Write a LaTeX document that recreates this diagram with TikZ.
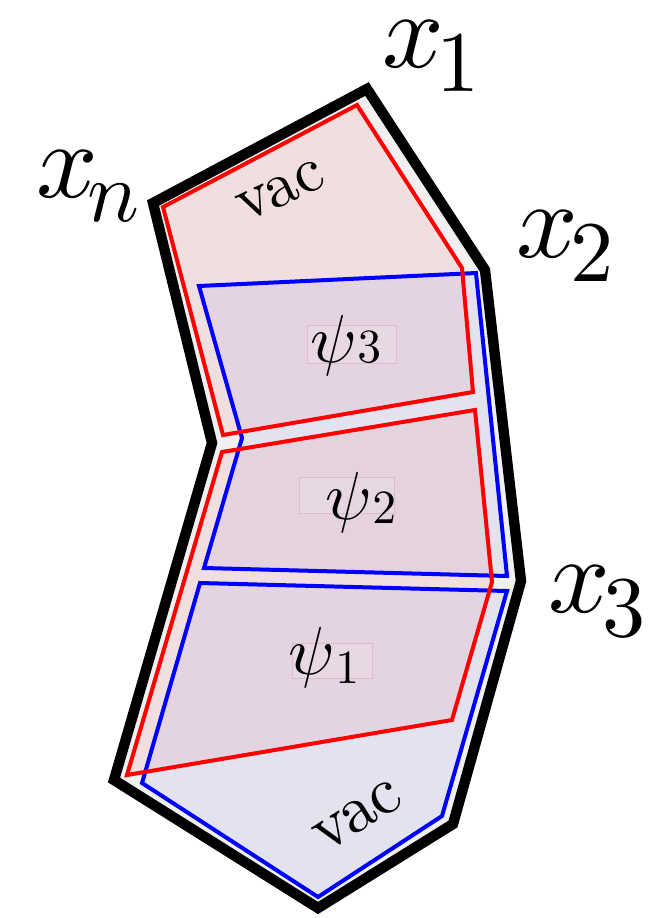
\documentclass[tikz,border=0pt]{standalone}
\usepackage{graphicx}
\newcommand\sublbl[4]{$#1\kern#4\raisebox{-#3}{\scalebox{0.8}{$#2$}}$}
\newcommand\psilbl[2]{$\psi\raisebox{-#2}{\scalebox{0.7}{$#1$}}$}
\begin{document}
\begin{tikzpicture}[x=0.5pt,y=-0.5pt,line join=miter,
  outerline/.style={draw=black,line width=5.2pt,fill={rgb,255:red,240;green,240;blue,240}},
  redreg/.style={fill=red,fill opacity=0.07},
  bluereg/.style={fill=blue,fill opacity=0.05},
  redline/.style={draw=red,line width=2pt},
  blueline/.style={draw=blue,line width=2pt},
  ptlabel/.style={anchor=base,inner sep=0pt,scale=5.4},
  psilabel/.style={anchor=base,inner sep=0pt,scale=3.4},
  vaclabel/.style={inner sep=0pt,scale=3.2},
  ghostbox/.style={draw={rgb,255:red,215;green,190;blue,205},line width=0.4pt,fill=white,fill opacity=0.12}]
\useasboundingbox (0,0) rectangle (668,918);

% outer contour vertices
\coordinate (on) at (153,203);
\coordinate (o1) at (367,89);
\coordinate (o2) at (485,270);
\coordinate (o3) at (521,581);
\coordinate (o4) at (453,824);
\coordinate (o5) at (318,908);
\coordinate (o6) at (114,780);
\coordinate (o7) at (212,443);

% red region 1 (vac + psi3)
\coordinate (ra1) at (163,207);
\coordinate (ra2) at (357,105);
\coordinate (ra3) at (462,268);
\coordinate (ra4) at (473,392);
\coordinate (ra5) at (223,435);
% blue region 1 (psi3 + psi2)
\coordinate (ba1) at (199,286);
\coordinate (ba2) at (476,273);
\coordinate (ba3) at (507,576);
\coordinate (ba4) at (204,568);
\coordinate (ba5) at (242,438);
% red region 2 (psi2 + psi1)
\coordinate (rb1) at (222,452);
\coordinate (rb2) at (475,410);
\coordinate (rb3) at (492,582);
\coordinate (rb4) at (452,720);
\coordinate (rb5) at (127,775);
% blue region 2 (psi1 + vac)
\coordinate (bb1) at (200,583);
\coordinate (bb2) at (507,591);
\coordinate (bb3) at (442,816);
\coordinate (bb4) at (318,897);
\coordinate (bb5) at (142,783);

\path[outerline] (on) -- (o1) -- (o2) -- (o3) -- (o4) -- (o5) -- (o6) -- (o7) -- cycle;

\path[redreg] (ra1) -- (ra2) -- (ra3) -- (ra4) -- (ra5) -- cycle;
\path[bluereg] (ba1) -- (ba2) -- (ba3) -- (ba4) -- (ba5) -- cycle;
\path[redreg] (rb1) -- (rb2) -- (rb3) -- (rb4) -- (rb5) -- cycle;
\path[bluereg] (bb1) -- (bb2) -- (bb3) -- (bb4) -- (bb5) -- cycle;

\draw[blueline] (ba1) -- (ba2) -- (ba3) -- (ba4) -- (ba5) -- cycle;
\draw[blueline] (bb1) -- (bb2) -- (bb3) -- (bb4) -- (bb5) -- cycle;
\draw[redline] (ra1) -- (ra2) -- (ra3) -- (ra4) -- (ra5) -- cycle;
\draw[redline] (rb1) -- (rb2) -- (rb3) -- (rb4) -- (rb5) -- cycle;

% faint label boxes
\path[ghostbox] (307,325) rectangle (396,363);
\path[ghostbox] (299,477) rectangle (394,513);
\path[ghostbox] (292,643) rectangle (372,678);

\node[psilabel] (p3) at (346,362) {\psilbl{3}{0em}};
\node[psilabel] (p2) at (361,519) {\psilbl{2}{0.07em}};
\node[psilabel] (p1) at (324,674) {\psilbl{1}{0.14em}};

\node[vaclabel,rotate=25] (vtop) at (281,191) {vac};
\node[vaclabel,rotate=32,scale=1.05] (vbot) at (358,816) {vac};

\node[ptlabel] (lx1) at (431,67) {\sublbl{x}{1}{0.23em}{-0.07em}};
\node[ptlabel] (lxn) at (88,197) {\sublbl{x}{n}{0.23em}{-0.1em}};
\node[ptlabel] (lx2) at (565,257) {\sublbl{x}{2}{0.23em}{-0.07em}};
\node[ptlabel] (lx3) at (597,612) {\sublbl{x}{3}{0.23em}{-0.07em}};
\end{tikzpicture}
\end{document}
